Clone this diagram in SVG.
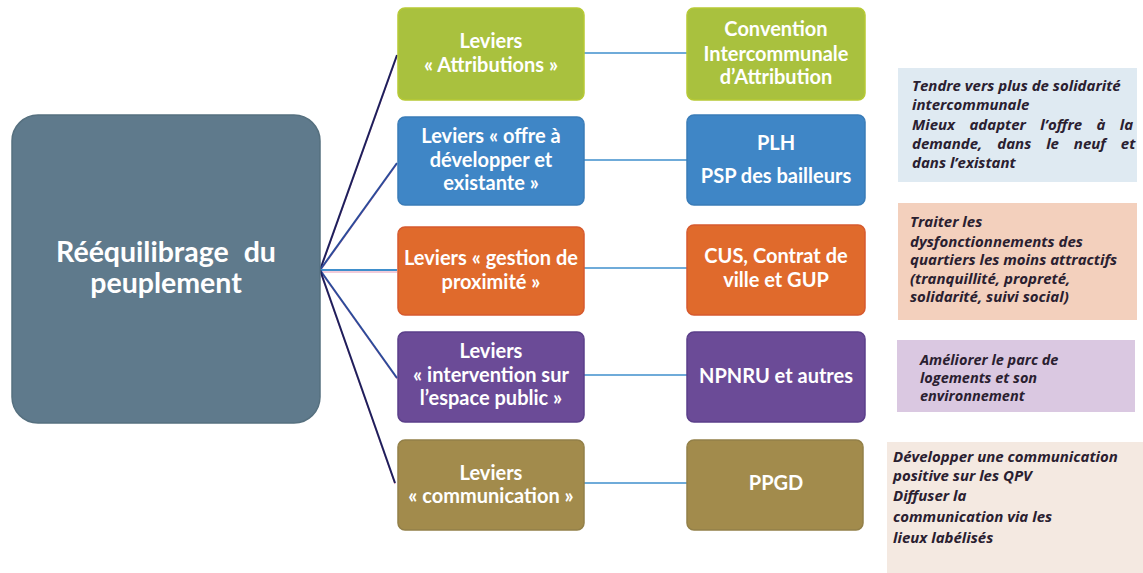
<svg xmlns="http://www.w3.org/2000/svg" width="1143" height="573" viewBox="0 0 1143 573">
<style>
.bx{stroke-width:1.5}
.t{font-family:Lato,"Open Sans","Liberation Sans",sans-serif;font-weight:bold;fill:#ffffff;text-anchor:middle}
.lv{font-size:20px}
.ct{font-size:28.5px}
.n{font-family:"Open Sans","Liberation Sans",sans-serif;font-weight:bold;font-style:italic;font-size:15px;fill:#2a2030}
.ns{font-size:14.5px}
.fan{fill:none;stroke-width:2}
.hz{stroke:#3f8fcc;stroke-width:1.6;fill:none}
.sh{fill:none;stroke:#d2457a;stroke-width:1.2;opacity:0.55}
</style>
<rect width="1143" height="573" fill="#ffffff"/>

<g id="connectors">
  <line class="sh" x1="320" y1="271" x2="397" y2="56"/>
  <line class="sh" x1="320" y1="271" x2="397" y2="164"/>
  <line class="sh" x1="320" y1="272" x2="397" y2="272"/>
  <line class="sh" x1="320" y1="271" x2="397" y2="379"/>
  <line class="sh" x1="320" y1="271" x2="395" y2="484"/>
  <line class="fan" stroke="#1e1f5c" x1="320" y1="270" x2="397" y2="55"/>
  <line class="fan" stroke="#2c4b9a" x1="320" y1="270" x2="397" y2="163"/>
  <line class="fan" stroke="#3f8fcc" x1="320" y1="270" x2="397" y2="270"/>
  <line class="fan" stroke="#2c4b9a" x1="320" y1="270" x2="397" y2="378"/>
  <line class="fan" stroke="#1e1f5c" x1="320" y1="270" x2="395" y2="483"/>
  <line class="hz" x1="584" y1="53" x2="687" y2="53"/>
  <line class="hz" x1="584" y1="160" x2="687" y2="160"/>
  <line class="hz" x1="584" y1="268" x2="687" y2="268"/>
  <line class="hz" x1="584" y1="375" x2="687" y2="375"/>
  <line class="hz" x1="584" y1="483" x2="687" y2="483"/>
</g>

<g id="central">
  <rect class="bx" x="12" y="115" width="308" height="308" rx="26" fill="#5f7a8c" stroke="#56707f"/>
  <text class="t ct" x="166" y="262" word-spacing="8">Rééquilibrage du</text>
  <text class="t ct" x="166" y="293">peuplement</text>
</g>

<g id="lev-attributions">
  <rect class="bx" x="398" y="8" width="186" height="92" rx="7" fill="#a9c13e" stroke="#b6c934"/>
  <text class="t lv" x="491" y="48">Leviers</text>
  <text class="t lv" x="491" y="72">« Attributions »</text>
</g>
<g id="lev-offre">
  <rect class="bx" x="398" y="117" width="186" height="88" rx="7" fill="#3f86c6" stroke="#3a7cb8"/>
  <text class="t lv" x="491" y="143">Leviers « offre à</text>
  <text class="t lv" x="491" y="167">développer et</text>
  <text class="t lv" x="491" y="190">existante »</text>
</g>
<g id="lev-gestion">
  <rect class="bx" x="398" y="227" width="186" height="88" rx="7" fill="#e06a2c" stroke="#d65a2e"/>
  <text class="t lv" x="491" y="265">Leviers « gestion de</text>
  <text class="t lv" x="491" y="289">proximité »</text>
</g>
<g id="lev-intervention">
  <rect class="bx" x="398" y="332" width="186" height="90" rx="7" fill="#6b4b97" stroke="#5b3f8a"/>
  <text class="t lv" x="491" y="358">Leviers</text>
  <text class="t lv" x="491" y="382">« intervention sur</text>
  <text class="t lv" x="491" y="405">l’espace public »</text>
</g>
<g id="lev-communication">
  <rect class="bx" x="398" y="440" width="186" height="90" rx="7" fill="#a28b4c" stroke="#938048"/>
  <text class="t lv" x="491" y="480">Leviers</text>
  <text class="t lv" x="491" y="503">« communication »</text>
</g>

<g id="cia">
  <rect class="bx" x="687" y="8" width="178" height="92" rx="7" fill="#a9c13e" stroke="#b6c934"/>
  <text class="t lv" x="776" y="36">Convention</text>
  <text class="t lv" x="776" y="61">Intercommunale</text>
  <text class="t lv" x="776" y="84">d’Attribution</text>
</g>
<g id="plh">
  <rect class="bx" x="687" y="115" width="178" height="90" rx="7" fill="#3f86c6" stroke="#3a7cb8"/>
  <text class="t lv" x="776" y="150">PLH</text>
  <text class="t lv" x="776" y="183">PSP des bailleurs</text>
</g>
<g id="cus">
  <rect class="bx" x="687" y="225" width="178" height="90" rx="7" fill="#e06a2c" stroke="#d65a2e"/>
  <text class="t lv" x="776" y="263">CUS, Contrat de</text>
  <text class="t lv" x="776" y="287">ville et GUP</text>
</g>
<g id="npnru">
  <rect class="bx" x="687" y="332" width="178" height="90" rx="7" fill="#6b4b97" stroke="#5b3f8a"/>
  <text class="t lv" x="776" y="383">NPNRU et autres</text>
</g>
<g id="ppgd">
  <rect class="bx" x="687" y="440" width="176" height="90" rx="7" fill="#a28b4c" stroke="#938048"/>
  <text class="t lv" x="776" y="490">PPGD</text>
</g>

<g id="note-solidarite">
  <rect x="898" y="68" width="239" height="114" fill="#dfeaf2"/>
  <text class="n" x="912" y="91">Tendre vers plus de solidarité</text>
  <text class="n" x="912" y="110">intercommunale</text>
  <text class="n" x="912" y="130" word-spacing="10.5">Mieux adapter l’offre à la</text>
  <text class="n" x="912" y="149" word-spacing="11">demande, dans le neuf et</text>
  <text class="n" x="912" y="168">dans l’existant</text>
</g>
<g id="note-dysfonctionnements">
  <rect x="898" y="203" width="239" height="117" fill="#f3d0bd"/>
  <text class="n" x="910" y="227">Traiter les</text>
  <text class="n" x="910" y="247">dysfonctionnements des</text>
  <text class="n" x="910" y="265">quartiers les moins attractifs</text>
  <text class="n" x="910" y="284">(tranquillité, propreté,</text>
  <text class="n" x="910" y="302">solidarité, suivi social)</text>
</g>
<g id="note-parc">
  <rect x="897" y="340" width="238" height="72" fill="#dac8e1"/>
  <text class="n ns" x="920" y="365">Améliorer le parc de</text>
  <text class="n ns" x="920" y="383">logements et son</text>
  <text class="n ns" x="920" y="401">environnement</text>
</g>
<g id="note-communication">
  <rect x="887" y="442" width="256" height="131" fill="#f4e9e1"/>
  <text class="n" x="893" y="462">Développer une communication</text>
  <text class="n" x="893" y="481">positive sur les QPV</text>
  <text class="n" x="893" y="501">Diffuser la</text>
  <text class="n" x="893" y="522">communication via les</text>
  <text class="n" x="893" y="543">lieux  labélisés</text>
</g>
</svg>
